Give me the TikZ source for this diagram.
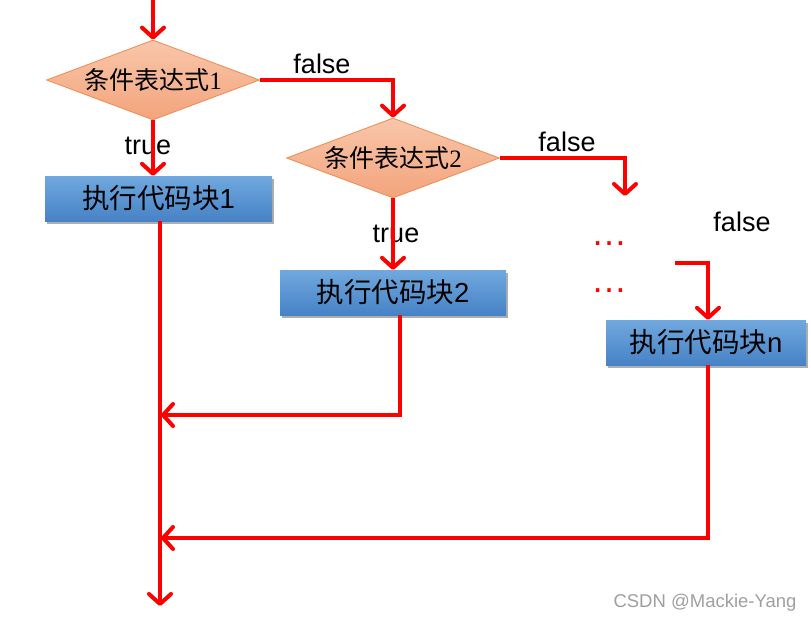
\documentclass[tikz,border=0pt]{standalone}
\usepackage{fontspec}
\setmainfont{Liberation Sans}
\newfontfamily\cjk{Noto Sans CJK SC}
\newfontfamily\serifdigit{Liberation Serif}
\usetikzlibrary{shapes.geometric,arrows.meta,shadows,calc}
\definecolor{dtop}{HTML}{F8C6AA}
\definecolor{dbot}{HTML}{F3A47C}
\definecolor{dborder}{HTML}{EE8A4E}
\definecolor{btop}{HTML}{71A8DE}
\definecolor{bbot}{HTML}{4682C6}
\tikzset{
  cond/.style={diamond, aspect=2.66, inner sep=0pt, minimum width=213pt, minimum height=80pt,
    top color=dtop, bottom color=dbot, draw=dborder, line width=0.8pt,
    font=\fontsize{25}{28}\selectfont\cjk},
  codebox/.style={rectangle, inner sep=0pt, minimum height=45pt,
    top color=btop, bottom color=bbot, draw=none,
    drop shadow={shadow xshift=2pt, shadow yshift=-3pt, opacity=0.45, fill=black!70},
    font=\fontsize{27.5}{30}\selectfont\cjk},
  lbl/.style={font=\fontsize{27}{30}\selectfont, inner sep=0pt},
  flow/.style={red, line width=4pt, -{Straight Barb[length=10pt, width=22pt, line cap=round, line join=round]}},
  dotsl/.style={red, font=\fontsize{36}{40}\selectfont, inner sep=0pt},
}
\begin{document}
\begin{tikzpicture}[x=1pt, y=-1pt]
\useasboundingbox (0,0) rectangle (811,622);

\node[cond] (d1) at (153,80) {条件表达式{\serifdigit 1}};
\node[cond] (d2) at (393,158) {条件表达式{\serifdigit 2}};

\node[codebox, minimum width=227pt] (b1) at (158.5,198.5) {执行代码块{\rmfamily 1}};
\node[codebox, minimum width=226pt] (b2) at (393,292.5) {执行代码块{\rmfamily 2}};
\node[codebox, minimum width=200pt] (bn) at (706,342.5) {执行代码块{\rmfamily n}};

\node[lbl] (f1) at (322,64) {false};
\node[lbl] (t1) at (148,146) {true};
\node[lbl] (f2) at (567,142) {false};
\node[lbl] (t2) at (396,234) {true};
\node[lbl] (f3) at (742,222) {false};

\node[dotsl] (e1) at (609,244) {…};
\node[dotsl] (e2) at (609,291) {…};

\coordinate (start) at (153,-5);
\coordinate (c2) at (625,196);
\coordinate (c3) at (675,263);
\coordinate (m1) at (161,415);
\coordinate (m2) at (161,538);
\coordinate (endp) at (160,606);

\draw[flow] (start) -- (d1.north);
\draw[flow] (d1.east) -| (d2.north);
\draw[flow] (d1.south) -- (d1.south |- b1.north);
\draw[flow] ([xshift=1.5pt]b1.south) -- (endp);
\draw[flow] (d2.south) -- (b2.north);
\draw[flow] ([xshift=7pt]b2.south) |- (m1);
\draw[flow] (d2.east) -| (c2);
\draw[flow] (c3) -| ([xshift=2pt]bn.north);
\draw[flow] ([xshift=2pt]bn.south) |- (m2);

\node[gray!75, font=\fontsize{18.5}{20}\selectfont, inner sep=0pt] (wm) at (705,603) {CSDN @Mackie-Yang};
\end{tikzpicture}
\end{document}
